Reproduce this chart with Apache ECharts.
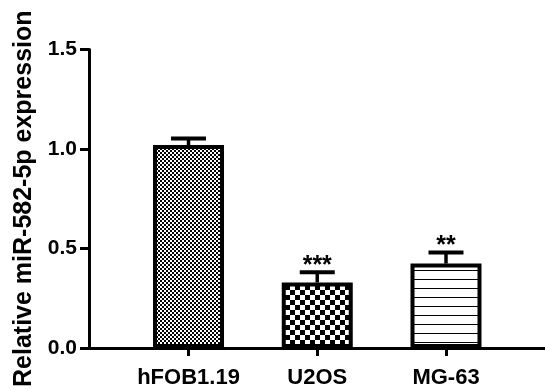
<!DOCTYPE html>
<html>
<head>
<meta charset="utf-8">
<script src="https://cdn.jsdelivr.net/npm/echarts@6/dist/echarts.min.js"></script>
<style>
html,body{margin:0;padding:0;background:#fff;}
#chart{width:545px;height:390px;}
</style>
</head>
<body>
<div id="chart"></div>
<script>
// ---- data ----
const categories = ['hFOB1.19', 'U2OS', 'MG-63'];
const means = [1.02, 0.329, 0.424];
const errors = [0.033, 0.052, 0.056];
const significance = ['', '***', '**'];
const yTicks = [0, 0.5, 1.0, 1.5];
const yTitle = 'Relative miR-582-5p expression';

// ---- patterns ----
function checker(cell) {
  const c = document.createElement('canvas');
  c.width = cell * 2; c.height = cell * 2;
  const g = c.getContext('2d');
  g.fillStyle = '#fff'; g.fillRect(0, 0, c.width, c.height);
  g.fillStyle = '#000';
  g.fillRect(0, 0, cell, cell);
  g.fillRect(cell, cell, cell, cell);
  return c;
}
function hlines(period) {
  const c = document.createElement('canvas');
  c.width = 8; c.height = period;
  const g = c.getContext('2d');
  g.fillStyle = '#fff'; g.fillRect(0, 0, c.width, c.height);
  g.fillStyle = '#000'; g.fillRect(0, 0, c.width, 1);
  return c;
}
const patterns = [checker(2), checker(5), hlines(9)];

const barData = categories.map((c, i) => ({
  value: [i, means[i]],
  itemStyle: { color: { image: patterns[i], repeat: 'repeat' } }
}));
const errData = categories.map((c, i) => [i, means[i], errors[i]]);

const chart = echarts.init(document.getElementById('chart'), null, { renderer: 'canvas' });
const font = '"Liberation Sans", Arial, sans-serif';

chart.setOption({
  animation: false,
  backgroundColor: '#fff',
  grid: { left: 89, right: 0, top: 49.5, bottom: 35, containLabel: false },
  xAxis: {
    type: 'value',
    min: -0.773,
    max: 2.769,
    splitLine: { show: false },
    axisLine: { show: true, onZero: false, lineStyle: { color: '#000', width: 3 } },
    axisTick: { show: true, customValues: [0, 1, 2], length: 8, lineStyle: { color: '#000', width: 3 } },
    axisLabel: {
      customValues: [0, 1, 2],
      formatter: v => categories[Math.round(v)] || '',
      color: '#000', fontSize: 22, fontWeight: 'bold', fontFamily: font, margin: 19
    }
  },
  yAxis: {
    type: 'value',
    min: yTicks[0],
    max: yTicks[yTicks.length - 1],
    interval: 0.5,
    splitLine: { show: false },
    axisLine: { show: true, onZero: false, lineStyle: { color: '#000', width: 3 } },
    axisTick: { show: true, length: 9, lineStyle: { color: '#000', width: 3 } },
    axisLabel: {
      formatter: v => v.toFixed(1),
      color: '#000', fontSize: 21, fontWeight: 'bold', fontFamily: font, margin: 12
    },
    name: yTitle,
    nameLocation: 'middle',
    nameGap: 45,
    nameTextStyle: { color: '#000', fontSize: 25, fontWeight: 'bold', fontFamily: font }
  },
  series: [
    {
      type: 'custom',
      z: 1,
      data: errData,
      renderItem: function (params, api) {
        const x = api.value(0), m = api.value(1), e = api.value(2);
        const base = api.coord([x, m]);
        const top = api.coord([x, m + e]);
        const children = [
          { type: 'line', shape: { x1: base[0], y1: base[1], x2: top[0], y2: top[1] },
            style: { stroke: '#000', lineWidth: 3.5 } },
          { type: 'line', shape: { x1: top[0] - 17.5, y1: top[1], x2: top[0] + 17.5, y2: top[1] },
            style: { stroke: '#000', lineWidth: 4 } }
        ];
        const sig = significance[params.dataIndex];
        if (sig) {
          children.push({
            type: 'text',
            style: {
              text: sig, x: top[0], y: top[1] + 6,
              align: 'center', verticalAlign: 'bottom',
              fontSize: 25, fontWeight: 'bold', fontFamily: font, fill: '#000'
            }
          });
        }
        return { type: 'group', children: children };
      }
    },
    {
      type: 'bar',
      z: 2,
      barWidth: 71,
      data: barData,
      itemStyle: { borderColor: '#000', borderWidth: 4 }
    }
  ]
});
</script>
</body>
</html>
